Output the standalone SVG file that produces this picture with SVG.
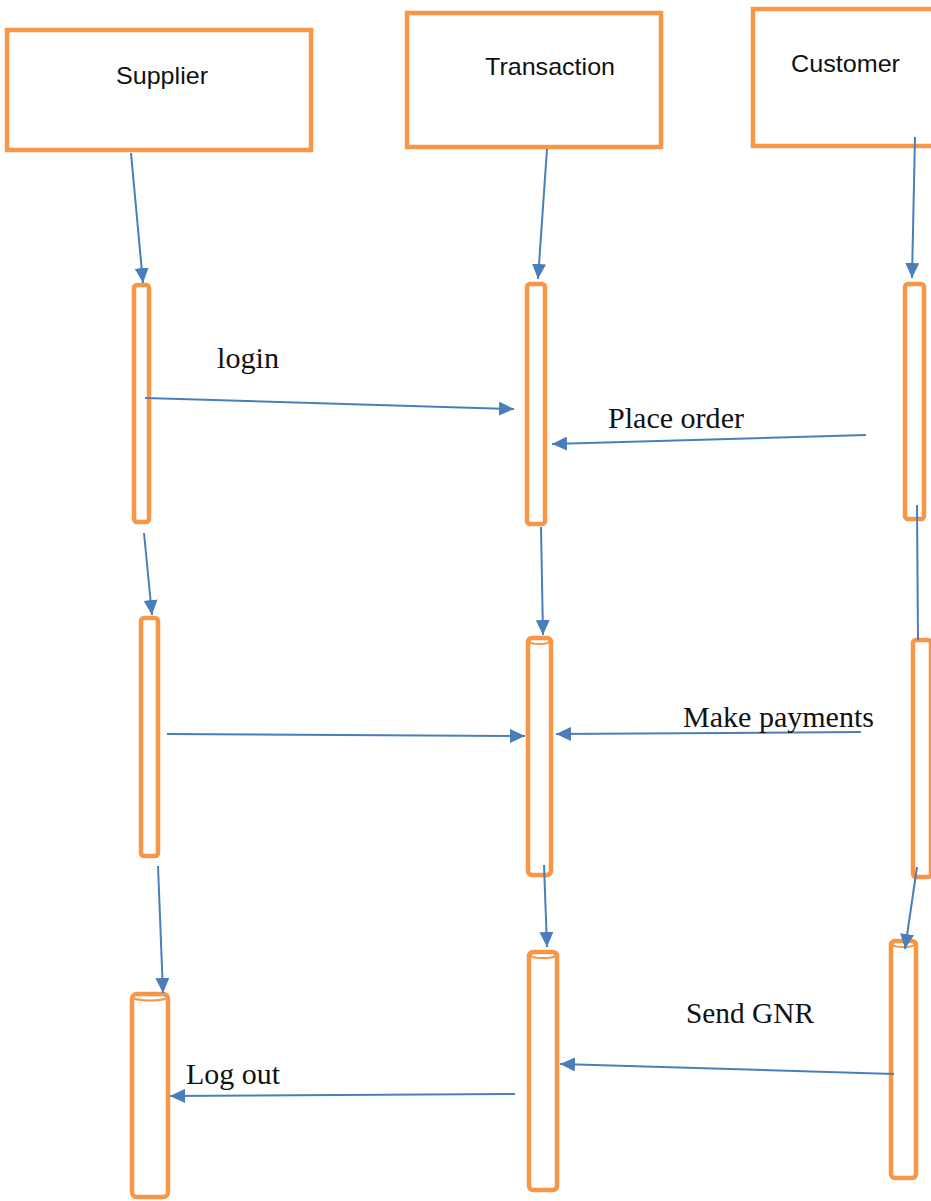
<svg xmlns="http://www.w3.org/2000/svg" width="931" height="1201" viewBox="0 0 931 1201">
<defs>
<style>
.box{fill:#fff;stroke:#F79646;stroke-width:4.5}
.bar{fill:#fff;stroke:#F79646;stroke-width:4.5}
.cap{fill:none;stroke:#F79646;stroke-width:2}
.lbl{font-family:"Liberation Sans",Arial,sans-serif;font-size:24px;fill:#111}
.msg{font-family:"Liberation Serif","Times New Roman",serif;font-size:29px;fill:#111}
.con{stroke:#4A7EBB;stroke-width:2;fill:none;marker-end:url(#ah)}
.plain{stroke:#4A7EBB;stroke-width:2;fill:none}
</style>
<marker id="ah" markerUnits="userSpaceOnUse" markerWidth="16" markerHeight="14" refX="15" refY="7" orient="auto">
<path d="M0,0 L15,7 L0,14 z" fill="#4A7EBB"/>
</marker>
</defs>
<rect width="931" height="1201" fill="#fff"/>

<g id="supplier">
<rect class="box" x="7" y="30" width="304" height="120"/>
<text class="lbl" x="116" y="84" textLength="92" lengthAdjust="spacingAndGlyphs">Supplier</text>
</g>
<g id="transaction">
<rect class="box" x="407" y="13" width="254" height="134"/>
<text class="lbl" x="485" y="75" textLength="130" lengthAdjust="spacingAndGlyphs">Transaction</text>
</g>
<g id="customer">
<rect class="box" x="753" y="9" width="190" height="137"/>
<text class="lbl" x="791" y="72" textLength="109" lengthAdjust="spacingAndGlyphs">Customer</text>
</g>

<g id="supplier-act1"><rect class="bar" x="134" y="285" width="15" height="237" rx="3"/></g>
<g id="supplier-act2"><rect class="bar" x="141" y="618" width="17" height="238" rx="3"/></g>
<g id="supplier-act3"><rect class="bar" x="132" y="994" width="36" height="203" rx="5"/><ellipse class="cap" cx="150" cy="997" rx="17" ry="3.5"/></g>
<g id="transaction-act1"><rect class="bar" x="527" y="284" width="18" height="240" rx="3"/></g>
<g id="transaction-act2"><rect class="bar" x="528" y="638" width="23" height="237" rx="4"/><ellipse class="cap" cx="539.5" cy="641" rx="10.5" ry="3"/></g>
<g id="transaction-act3"><rect class="bar" x="529" y="952" width="28" height="238" rx="4"/><ellipse class="cap" cx="543" cy="955" rx="13" ry="3"/></g>
<g id="customer-act1"><rect class="bar" x="905" y="284" width="19" height="235" rx="3"/></g>
<g id="customer-act2"><rect class="bar" x="913" y="640" width="18" height="237" rx="3"/></g>
<g id="customer-act3"><rect class="bar" x="891" y="941" width="25" height="237" rx="4"/><ellipse class="cap" cx="903.5" cy="944" rx="11.5" ry="3"/></g>

<g id="connectors">
<line class="con" x1="131" y1="153" x2="143" y2="283"/>
<line class="con" x1="547" y1="149" x2="538" y2="279"/>
<line class="con" x1="915" y1="137" x2="912" y2="278"/>
<line class="con" x1="145" y1="398" x2="514" y2="409"/>
<line class="con" x1="866" y1="435" x2="552" y2="444"/>
<line class="con" x1="144" y1="533" x2="152" y2="615"/>
<line class="con" x1="541" y1="527" x2="543" y2="635"/>
<line class="plain" x1="917" y1="505" x2="918" y2="640"/>
<line class="con" x1="167" y1="734" x2="525" y2="736"/>
<line class="con" x1="861" y1="732" x2="556" y2="734"/>
<line class="con" x1="158" y1="866" x2="163" y2="993"/>
<line class="con" x1="544" y1="865" x2="547" y2="947"/>
<line class="con" x1="917" y1="867" x2="905" y2="949"/>
<line class="con" x1="894" y1="1074" x2="560" y2="1064"/>
<line class="con" x1="515" y1="1094" x2="170" y2="1096"/>
</g>

<g id="labels">
<text class="msg" x="217" y="368" textLength="62" lengthAdjust="spacingAndGlyphs">login</text>
<text class="msg" x="608" y="428" textLength="136" lengthAdjust="spacingAndGlyphs">Place order</text>
<text class="msg" x="683" y="727" textLength="191" lengthAdjust="spacingAndGlyphs">Make payments</text>
<text class="msg" x="686" y="1023" textLength="128" lengthAdjust="spacingAndGlyphs">Send GNR</text>
<text class="msg" x="186" y="1084" textLength="94" lengthAdjust="spacingAndGlyphs">Log out</text>
</g>
</svg>
